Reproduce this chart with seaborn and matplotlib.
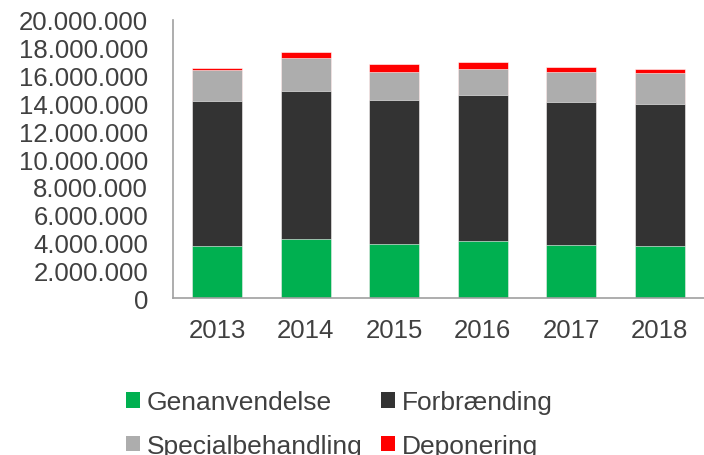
import matplotlib
matplotlib.use("Agg")
import matplotlib.pyplot as plt
from matplotlib.patches import Patch
from matplotlib.ticker import FuncFormatter, MultipleLocator
import numpy as np
import seaborn as sns

sns.set_style("white")
plt.rcParams["font.family"] = ["Liberation Sans", "DejaVu Sans"]

# data (tons per year)
years = ["2013", "2014", "2015", "2016", "2017", "2018"]
genanvendelse = [3740000, 4270000, 3910000, 4120000, 3830000, 3780000]
forbraending = [10400000, 10590000, 10310000, 10510000, 10270000, 10150000]
specialbehandling = [2230000, 2430000, 2060000, 1840000, 2130000, 2260000]
deponering = [200000, 380000, 550000, 510000, 410000, 280000]

labels = ["Genanvendelse", "Forbrænding", "Specialbehandling", "Deponering"]
colors = ["#00B050", "#333333", "#ADADAD", "#FF0000"]
text_color = "#404040"

layers = [genanvendelse, forbraending, specialbehandling, deponering]
cum = np.cumsum(np.array(layers, dtype=float), axis=0)

fig, ax = plt.subplots(figsize=(7.04, 4.56), dpi=100)
fig.subplots_adjust(left=0.246, right=1.0, top=0.954, bottom=0.344)

# stacked bars: draw cumulative totals from top layer down
for i in range(len(layers) - 1, -1, -1):
    sns.barplot(x=years, y=cum[i], color=colors[i], width=0.565,
                edgecolor="white", linewidth=0.4, saturation=1, ax=ax)

ax.set_ylim(0, 20000000)
ax.set_xlim(-0.5, 5.5)
ax.yaxis.set_major_locator(MultipleLocator(2000000))
ax.yaxis.set_major_formatter(
    FuncFormatter(lambda v, p: f"{v:,.0f}".replace(",", "."))
)
ax.tick_params(axis="both", length=0, labelsize=18.5, colors=text_color)
ax.tick_params(axis="y", pad=18)
ax.tick_params(axis="x", pad=14)
ax.set_xlabel("")
ax.set_ylabel("")

for side in ["top", "right"]:
    ax.spines[side].set_visible(False)
for side in ["left", "bottom"]:
    ax.spines[side].set_color("#A0A0A0")
    ax.spines[side].set_linewidth(1.2)

# legend, two columns filled row by row
order = [0, 2, 1, 3]
handles = [Patch(facecolor=colors[i], edgecolor="none") for i in order]
fig.legend(
    handles, [labels[i] for i in order],
    ncol=2, loc="upper left", bbox_to_anchor=(0.179, 0.142),
    frameon=False, fontsize=19, labelcolor=text_color,
    handlelength=0.53, handleheight=0.53, handletextpad=0.25,
    columnspacing=0.7, labelspacing=0.74,
    borderpad=0, borderaxespad=0,
)

fig.savefig("out.png", dpi=100)
